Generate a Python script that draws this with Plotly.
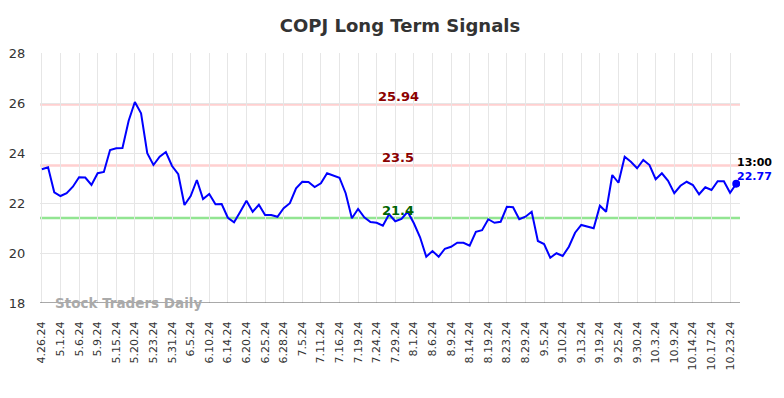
import plotly.graph_objects as go

tick_labels = ["4.26.24", "5.1.24", "5.6.24", "5.9.24", "5.15.24", "5.20.24", "5.23.24", "5.31.24",
               "6.5.24", "6.10.24", "6.14.24", "6.20.24", "6.25.24", "6.28.24", "7.5.24", "7.11.24",
               "7.16.24", "7.19.24", "7.24.24", "7.29.24", "8.1.24", "8.6.24", "8.9.24", "8.14.24",
               "8.19.24", "8.23.24", "8.29.24", "9.5.24", "9.10.24", "9.13.24", "9.19.24", "9.25.24",
               "9.30.24", "10.3.24", "10.9.24", "10.14.24", "10.17.24", "10.23.24"]

prices = [23.35, 23.43, 22.43, 22.28, 22.39, 22.65, 23.03, 23.02, 22.72, 23.19,
          23.24, 24.12, 24.19, 24.20, 25.29, 26.04, 25.59, 23.99, 23.52, 23.85,
          24.04, 23.48, 23.15, 21.92, 22.28, 22.92, 22.16, 22.36, 21.95, 21.96,
          21.41, 21.23, 21.65, 22.09, 21.65, 21.93, 21.52, 21.52, 21.45, 21.79,
          21.99, 22.59, 22.85, 22.84, 22.64, 22.79, 23.19, 23.11, 23.01, 22.39,
          21.39, 21.76, 21.43, 21.24, 21.21, 21.09, 21.55, 21.27, 21.36, 21.65,
          21.19, 20.63, 19.85, 20.08, 19.85, 20.17, 20.25, 20.41, 20.41, 20.29,
          20.85, 20.91, 21.35, 21.21, 21.25, 21.85, 21.83, 21.35, 21.45, 21.65,
          20.48, 20.36, 19.81, 19.99, 19.88, 20.25, 20.81, 21.12, 21.05, 20.99,
          21.89, 21.65, 23.12, 22.81, 23.85, 23.65, 23.39, 23.72, 23.52, 22.95,
          23.19, 22.89, 22.39, 22.69, 22.85, 22.72, 22.35, 22.63, 22.52, 22.87,
          22.87, 22.41, 22.77]

tick_step = 3
resistance_high = 25.94
resistance_mid = 23.5
support = 21.4
last_time = "13:00"

x = list(range(len(prices)))
tickvals = [i * tick_step for i in range(len(tick_labels))]

fig = go.Figure()

for lvl, col in [(resistance_high, "rgba(255,170,170,0.55)"),
                 (resistance_mid, "rgba(255,170,170,0.55)"),
                 (support, "rgba(110,220,110,0.75)")]:
    fig.add_hline(y=lvl, line=dict(color=col, width=2.5), layer="below")

fig.add_trace(go.Scatter(x=x, y=prices, mode="lines",
                         line=dict(color="#0000ff", width=2), hoverinfo="skip"))
fig.add_trace(go.Scatter(x=[x[-1]], y=[prices[-1]], mode="markers",
                         marker=dict(color="#0000ff", size=8), hoverinfo="skip"))

mid_x = 57.5
fig.add_annotation(x=mid_x, y=resistance_high, text="<b>%g</b>" % resistance_high, showarrow=False,
                   yshift=8, font=dict(color="#8b0000", size=13, family="DejaVu Sans"))
fig.add_annotation(x=mid_x, y=resistance_mid, text="<b>%g</b>" % resistance_mid, showarrow=False,
                   yshift=8, font=dict(color="#8b0000", size=13, family="DejaVu Sans"))
fig.add_annotation(x=mid_x, y=support, text="<b>%g</b>" % support, showarrow=False,
                   yshift=8, font=dict(color="#006400", size=13, family="DejaVu Sans"))

fig.add_annotation(x=x[-1], y=prices[-1], text="<b>%s</b>" % last_time, showarrow=False,
                   xanchor="left", xshift=-1, yshift=21,
                   font=dict(color="black", size=11, family="DejaVu Sans"))
fig.add_annotation(x=x[-1], y=prices[-1], text="<b>%.2f</b>" % prices[-1], showarrow=False,
                   xanchor="left", xshift=-1, yshift=7,
                   font=dict(color="#0000ff", size=11, family="DejaVu Sans"))

fig.add_annotation(xref="paper", yref="paper", x=0.018, y=0.0, text="<b>Stock Traders Daily</b>",
                   showarrow=False, xanchor="left", yanchor="middle",
                   font=dict(color="#aaaaaa", size=13.5, family="DejaVu Sans"))

fig.update_layout(
    width=784, height=398,
    margin=dict(l=32, r=52, t=45, b=103),
    paper_bgcolor="white", plot_bgcolor="white",
    showlegend=False,
    title=dict(text="<b>COPJ Long Term Signals</b>", x=0.5, xanchor="center", y=0.955, yanchor="middle",
               font=dict(size=18, color="#333333", family="DejaVu Sans")),
    font=dict(family="DejaVu Sans", color="#333333"),
)

fig.update_xaxes(range=[-0.3, 112.6], tickmode="array", tickvals=tickvals, ticktext=tick_labels,
                 tickangle=-90, showgrid=True, gridcolor="#e6e6e6", gridwidth=1,
                 zeroline=False, showline=False, ticks="outside", ticklen=13,
                 tickcolor="rgba(0,0,0,0)", automargin=False,
                 tickfont=dict(size=11, color="#333333", family="DejaVu Sans"))
fig.update_yaxes(range=[18, 28], dtick=2, showgrid=True, gridcolor="#e6e6e6", gridwidth=1,
                 zeroline=False, showline=False, ticks="outside", ticklen=11,
                 tickcolor="rgba(0,0,0,0)", automargin=False,
                 tickfont=dict(size=13, color="#333333", family="DejaVu Sans"))
fig.add_hline(y=18, line=dict(color="#555555", width=1.2))

fig.write_html("out.html")
